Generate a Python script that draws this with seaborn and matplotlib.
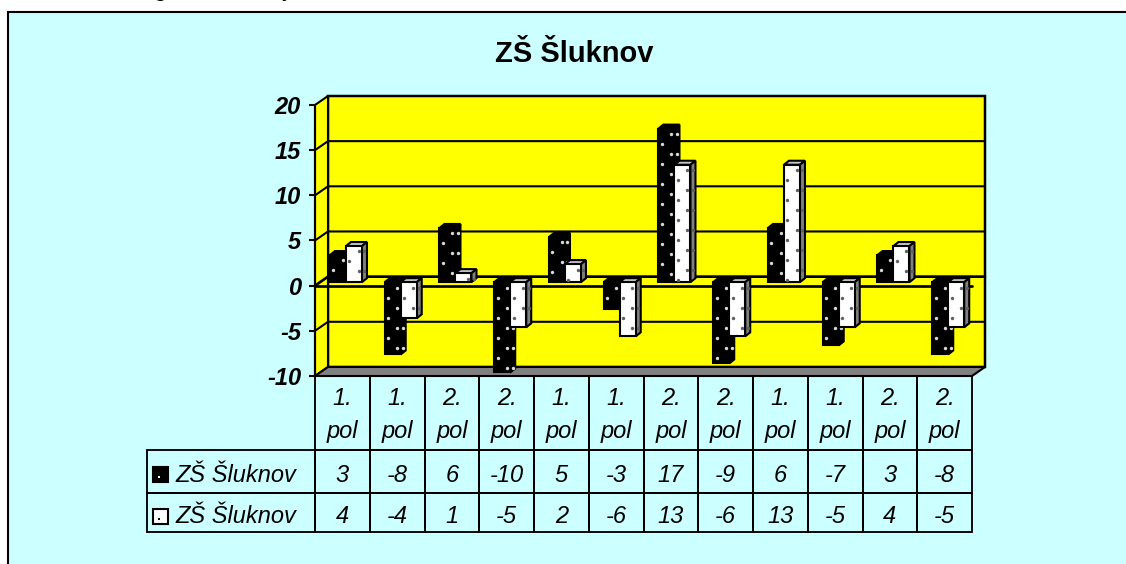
import numpy as np
import pandas as pd
import seaborn as sns
import matplotlib.pyplot as plt
from matplotlib.patches import Polygon, Rectangle
from matplotlib.transforms import Affine2D

W, H = 1126, 564

periods = ['1.\npol', '1.\npol', '2.\npol', '2.\npol', '1.\npol', '1.\npol',
           '2.\npol', '2.\npol', '1.\npol', '1.\npol', '2.\npol', '2.\npol']
series_name = 'ZŠ Šluknov'
first_values = [3, -8, 6, -10, 5, -3, 17, -9, 6, -7, 3, -8]
second_values = [4, -4, 1, -5, 2, -6, 13, -6, 13, -5, 4, -5]
y_ticks = [-10, -5, 0, 5, 10, 15, 20]

sns.set_theme(style='white')
plt.rcParams['font.family'] = ['Liberation Sans', 'DejaVu Sans']
plt.rcParams['axes.unicode_minus'] = False

LW = 1.5
CYAN = '#CCFFFF'
YELLOW = '#FFFF00'
GREY = '#808080'


def fx(px):
    return px / W


def fy(py):
    return 1 - py / H


fig = plt.figure(figsize=(W / 100, H / 100), dpi=100, facecolor='white')
# outer chart frame, runs off the right and bottom of the picture
fig.add_artist(Rectangle((fx(8), fy(H + 20)), fx(W + 20), (H + 8) / H, facecolor=CYAN,
                         edgecolor='black', lw=LW, zorder=-1))
ax = fig.add_axes([fx(315), fy(376), fx(972 - 315), (376 - 105) / H])
ax.set_facecolor('none')

df = pd.DataFrame({'cell': list(range(12)) * 2,
                   'series': ['a'] * 12 + ['b'] * 12,
                   'value': first_values + second_values})
sns.barplot(data=df, x='cell', y='value', hue='series', hue_order=['a', 'b'],
            palette=['black', 'white'], width=32 / 54.75, errorbar=None, legend=False,
            edgecolor='black', linewidth=LW, clip_on=False, ax=ax)

ax.set_xlim(-0.5, 11.5)
ax.set_ylim(-10, 20)
ax.set_xlabel('')
ax.set_ylabel('')
ax.set_xticks([])
ax.set_yticks(y_ticks)
ax.tick_params(axis='y', left=True, length=4, width=LW, color='black', pad=6)
for lab in ax.get_yticklabels():
    lab.set_fontsize(17)
    lab.set_fontweight('bold')
    lab.set_fontstyle('italic')
    lab.set_color('black')
sns.despine(ax=ax, top=True, right=True, bottom=True)
ax.spines['left'].set_color('black')
ax.spines['left'].set_linewidth(LW)

# walls, floor and gridlines of the fake 3d box
wall_dx = 13 / 54.75
wall_dy = 1.0
x0, x1 = -0.5, 11.5
ax.add_patch(Polygon([(x0 + wall_dx, -10 + wall_dy), (x1 + wall_dx, -10 + wall_dy),
                      (x1 + wall_dx, 20 + wall_dy), (x0 + wall_dx, 20 + wall_dy)],
                     fc=YELLOW, ec='black', lw=LW * 1.2, zorder=0.5, clip_on=False))
ax.add_patch(Polygon([(x0, -10), (x0 + wall_dx, -10 + wall_dy), (x0 + wall_dx, 20 + wall_dy), (x0, 20)],
                     fc=YELLOW, ec='black', lw=LW, zorder=0.6, clip_on=False))
ax.add_patch(Polygon([(x0, -10), (x1, -10), (x1 + wall_dx, -10 + wall_dy), (x0 + wall_dx, -10 + wall_dy)],
                     fc=GREY, ec='black', lw=LW, zorder=0.7, clip_on=False))
for t in y_ticks[1:-1]:
    ax.plot([x0, x0 + wall_dx, x1 + wall_dx], [t, t + wall_dy, t + wall_dy], color='black',
            lw=LW * (1.3 if t == 0 else 1), zorder=0.8, clip_on=False)
ax.plot([x0, x1], [0, 0], color='black', lw=LW * 1.3, zorder=1, clip_on=False)

# bars sit a little behind the front plane
bar_tf = ax.transData + Affine2D().translate(3.6, 3.5)
side_dx = 5 / 54.75
side_dy = 4 / 9.03
step_x = 9.3 / 54.75
step_y = 10 / 9.03

for n, container in enumerate(ax.containers):
    front_z = 2 + n
    dot_col = '#d8d8d8' if n == 0 else '#606060'
    dot_x, dot_y = [], []
    for bar in container:
        left = bar.get_x()
        wid = bar.get_width()
        lo = min(bar.get_y(), bar.get_y() + bar.get_height())
        hi = max(bar.get_y(), bar.get_y() + bar.get_height())
        bar.set_transform(bar_tf)
        bar.set_zorder(front_z)
        ax.add_patch(Polygon([(left, hi), (left + wid, hi), (left + wid + side_dx, hi + side_dy),
                              (left + side_dx, hi + side_dy)], transform=bar_tf, clip_on=False,
                             fc='black' if n == 0 else '#c8c8c8', ec='black', lw=LW, zorder=front_z - 0.2))
        ax.add_patch(Polygon([(left + wid, lo), (left + wid + side_dx, lo + side_dy),
                              (left + wid + side_dx, hi + side_dy), (left + wid, hi)], transform=bar_tf,
                             clip_on=False, fc='black' if n == 0 else GREY, ec='black', lw=LW,
                             zorder=front_z - 0.2))
        # dot pattern, two staggered columns on the front and one on the side
        rows = np.arange(hi - 0.6, lo + 0.2, -step_y)
        for r, row in enumerate(rows):
            dot_x.append(left + (0.06 if r % 2 else 0.06 + step_x))
            dot_y.append(row)
            if r % 2 == 0:
                dot_x.append(left + wid + side_dx / 2)
                dot_y.append(row)
    ax.scatter(dot_x, dot_y, s=6, color=dot_col, linewidths=0, transform=bar_tf,
               zorder=front_z + 0.1, clip_on=False)

# data table under the plot, first column holds the series names
cell_h = [74, 43, 39]
tbl = ax.table(cellText=[[series_name] + first_values, [series_name] + second_values],
               colLabels=[''] + periods, cellLoc='center',
               bbox=[(147 - 315) / 657, -(532 - 376) / 271, (972 - 147) / 657, (532 - 376) / 271])
tbl.auto_set_font_size(False)
for (r, c), cell in tbl.get_celld().items():
    cell.set_facecolor('none')
    cell.set_edgecolor('black')
    cell.set_linewidth(LW * 0.9)
    cell.set_height(cell_h[r])
    cell.set_width(168 if c == 0 else 54.75)
    txt = cell.get_text()
    txt.set_fontsize(17)
    txt.set_fontstyle('italic')
    txt.set_color('black')
    # table text sits a few pixels low in the original
    txt.set_transform(Affine2D().translate(0, -2 if r == 0 else -4))
    if r == 0:
        txt.set_linespacing(1.6)
    if c == 0:
        cell.set_text_props(ha='left')
        cell.PAD = 28 / 168
tbl[0, 0].set_visible(False)

# legend keys in the table
for top, col, dot in [(467, 'black', 'white'), (509, 'white', 'black')]:
    fig.add_artist(Rectangle((fx(153), fy(top + 15)), 15 / W, 15 / H, fc=col, ec='black', lw=LW, zorder=5))
    fig.add_artist(Rectangle((fx(158), fy(top + 11)), 2 / W, 2 / H, fc=dot, ec='none', zorder=6))

fig.text(fx(574), fy(54), series_name, fontsize=21, fontweight='bold', color='black',
         ha='center', va='center')

# bottoms of the letters cut off above the chart
fig.text(fx(154), fy(-4), 'g', fontsize=17, color='black', va='baseline')
fig.text(fx(282), fy(-4), 'y', fontsize=17, color='black', va='baseline')

fig.savefig('out.png', dpi=100)
